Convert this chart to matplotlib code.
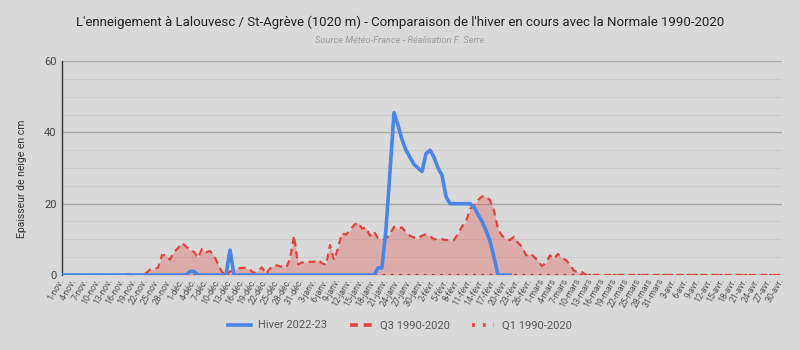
import matplotlib
matplotlib.use("Agg")
import matplotlib.pyplot as plt
from matplotlib.lines import Line2D

# months of the season (Nov -> Apr) and their length
months = ["nov.", "déc.", "janv.", "févr.", "mars", "avr."]
month_days = [30, 31, 31, 28, 31, 30]

# Hiver 2022-23 (cm), from 1-nov. up to 21-févr.
hiver = [0, 0, 0, 0, 0, 0, 0, 0, 0, 0, 0, 0, 0, 0, 0, 0,
         0, 0, 0, 0, 0, 0, 0, 0, 0, 0, 0, 0, 0, 0, 0, 0,
         1, 1, 0, 0, 0, 0, 0, 0, 0, 0, 7, 0, 0, 0, 0, 0,
         0, 0, 0, 0, 0, 0, 0, 0, 0, 0, 0, 0, 0, 0, 0, 0,
         0, 0, 0, 0, 0, 0, 0, 0, 0, 0, 0, 0, 0, 0, 0, 2,
         2, 13, 29, 45.5, 42, 38, 35, 33, 31, 30, 29, 34, 35, 33, 30, 28,
         22, 20, 20, 20, 20, 20, 20, 19, 17, 15, 12.5, 9.5, 5, 0, 0, 0,
         0]

# Q3 1990-2020 (cm), 1-nov. -> 30-avr.
q3 = [0, 0, 0, 0, 0, 0, 0, 0, 0, 0, 0, 0, 0, 0, 0, 0,
      0, 0.5, 0, 0, 0, 0.5, 1.5, 1.7, 2, 5.6, 5.5, 4.3, 6.5, 7.5, 9, 8,
      7, 6.5, 4.8, 7.3, 6.4, 6.7, 5.5, 3, 0.8, 0, 1, 1.4, 1.8, 2, 2, 1.4,
      0.5, 1.3, 2.1, 0.3, 1.8, 2.8, 2.6, 2.3, 2, 4.5, 11, 3, 3.5, 3.7, 3.7, 3.7,
      4.2, 3.3, 2.8, 8.4, 4.2, 7.5, 11.7, 11.3, 12.5, 14, 14.7, 13, 13.3, 11, 12.2, 10.3,
      9.8, 10.2, 11.5, 13.5, 13.1, 13.3, 12, 11, 10.5, 10.3, 11, 11.4, 10.9, 10, 10.2, 10,
      9.8, 9.8, 9.8, 11.5, 13.6, 15, 18.5, 19.5, 21, 22, 22, 21, 18, 13, 11, 10.2,
      9.8, 10.7, 9, 7.9, 5.5, 6.1, 5.1, 4, 2.5, 3.5, 5.5, 4.5, 5.9, 4.7, 4.2, 2.8,
      1.2, 0.8, 0.8, 0, 0, 0, 0, 0, 0, 0, 0, 0, 0, 0, 0, 0,
      0, 0, 0, 0, 0, 0, 0, 0, 0, 0, 0, 0, 0, 0, 0, 0,
      0, 0, 0, 0, 0, 0, 0, 0, 0, 0, 0, 0, 0, 0, 0, 0,
      0, 0, 0, 0, 0]

# Q1 1990-2020 (cm)
q1 = [0, 0, 0, 0, 0, 0, 0, 0, 0, 0, 0, 0, 0, 0, 0, 0, 0, 0, 0, 0,
      0, 0, 0, 0, 0, 0, 0, 0, 0, 0, 0, 0, 0, 0, 0, 0, 0, 0, 0, 0,
      0, 0, 0, 0, 0, 0, 0, 0, 0, 0, 0, 0, 0, 0, 0, 0, 0, 0, 0, 0,
      0, 0, 0, 0, 0, 0, 0, 0, 0, 0, 0, 0, 0, 0, 0, 0, 0, 0, 0, 0,
      0, 0, 0, 0, 0, 0, 0, 0, 0, 0, 0, 0, 0, 0, 0, 0, 0, 0, 0, 0,
      0, 0, 0, 0, 0, 0, 0, 0, 0, 0, 0, 0, 0, 0, 0, 0, 0, 0, 0, 0,
      0, 0, 0, 0, 0, 0, 0, 0, 0, 0, 0, 0, 0, 0, 0, 0, 0, 0, 0, 0,
      0, 0, 0, 0, 0, 0, 0, 0, 0, 0, 0, 0, 0, 0, 0, 0, 0, 0, 0, 0,
      0, 0, 0, 0, 0, 0, 0, 0, 0, 0, 0, 0, 0, 0, 0, 0, 0, 0, 0, 0,
      0]

# day labels ("1-nov.", "2-nov.", ...)
days = []
for m, n in zip(months, month_days):
    for d in range(1, n + 1):
        days.append("%d-%s" % (d, m))

bg = "#d9d9d9"
blue = "#4a86e8"
red = "#e0443c"

plt.rcParams["font.family"] = ["Roboto", "DejaVu Sans"]

fig = plt.figure(figsize=(8, 3.5), dpi=100, facecolor=bg)
ax = fig.add_axes([0.0775, 0.2143, 0.9, 0.6114], facecolor=bg)

x3 = list(range(len(q3)))
xh = list(range(len(hiver)))

ax.fill_between(x3, q3, 0, color=red, alpha=0.3, lw=0, zorder=2)
ax.plot(x3, q1, color="#b03a34", lw=1.6, dashes=(1.2, 2.5), zorder=3)
ax.plot(x3, q3, color=red, lw=1.6, dashes=(3.2, 2.2), zorder=3)
ax.plot(xh, hiver, color=blue, lw=2.6, solid_joinstyle="round", zorder=4)

ax.set_xlim(0, len(q3) - 1)
ax.set_ylim(0, 60)

ax.set_yticks([0, 20, 40, 60])
ax.set_yticks(range(0, 61, 5), minor=True)
ax.grid(axis="y", which="major", color="#a8a8a8", lw=1, zorder=0)
ax.grid(axis="y", which="minor", color="#cbcbcb", lw=0.8, zorder=0)
ax.tick_params(axis="y", which="both", length=0, labelsize=8, labelcolor="#444444", pad=4)

ticks = list(range(0, len(days), 3))
ax.set_xticks(ticks)
ax.set_xticklabels([days[i] for i in ticks], rotation=60, ha="right",
                   va="center", rotation_mode="anchor", fontsize=6.3, color="#555555")
ax.tick_params(axis="x", length=0, pad=3)

for s in ["top", "right", "bottom"]:
    ax.spines[s].set_visible(False)
ax.spines["left"].set_color("#333333")
ax.spines["left"].set_linewidth(1)

fig.text(0.5, 0.935, "L'enneigement à Lalouvesc / St-Agrève (1020 m) - Comparaison de l'hiver en cours avec la Normale 1990-2020",
         ha="center", va="center", fontsize=9.5, color="#222222")
fig.text(0.5, 0.883, "Source Météo-France - Réalisation F. Serre",
         ha="center", va="center", fontsize=6.7, color="#9e9e9e", style="italic")
fig.text(0.028, 0.49, "Epaisseur de neige en cm", rotation=90,
         ha="center", va="center", fontsize=7.5, color="#333333")

handles = [Line2D([], [], color=blue, lw=2.6),
           Line2D([], [], color=red, lw=2.6, dashes=(2.2, 1.6)),
           Line2D([], [], color=red, lw=2.6, dashes=(0.8, 2.2))]
leg = fig.legend(handles, ["Hiver 2022-23", "Q3 1990-2020", "Q1 1990-2020"],
                 loc="center", bbox_to_anchor=(0.5, 0.07), ncol=3, frameon=False,
                 fontsize=8, handlelength=2.0, columnspacing=2.0, handletextpad=0.7)
for t in leg.get_texts():
    t.set_color("#555555")

fig.savefig("out.png", dpi=100, facecolor=bg)
